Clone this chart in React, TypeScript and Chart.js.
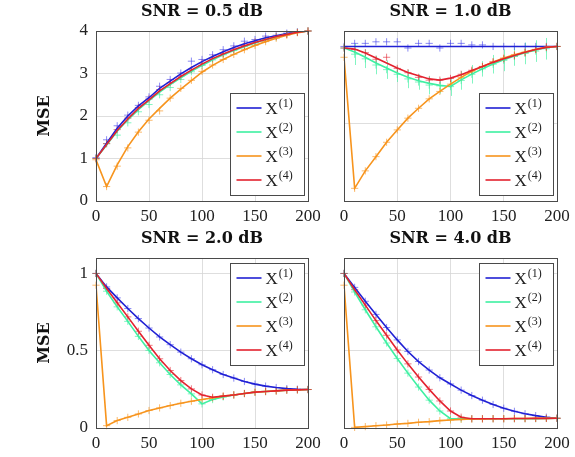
import React, { useEffect, useRef } from 'react';
import { Chart, registerables } from 'chart.js';

Chart.register(...registerables);

// ---------------- data ----------------
const xValues = [0, 10, 20, 30, 40, 50, 60, 70, 80, 90, 100, 110, 120, 130, 140, 150, 160, 170, 180, 190, 200];
const xTicks = [0, 50, 100, 150, 200];
const yTicksTop = [0, 1, 2, 3, 4];
const yTicksNorm = [0, 0.5, 1];
const seriesNames = ['X', 'X', 'X', 'X'];
const seriesSup = ['(1)', '(2)', '(3)', '(4)'];
const titles = ['SNR = 0.5 dB', 'SNR = 1.0 dB', 'SNR = 2.0 dB', 'SNR = 4.0 dB'];

// SNR = 0.5 dB (lines)
const tlBlue = [1.0, 1.36, 1.71, 2.0, 2.24, 2.43, 2.65, 2.82, 2.99, 3.14, 3.28, 3.4, 3.51, 3.61, 3.7, 3.77, 3.84, 3.89, 3.94, 3.98, 4.0];
const tlGreen = [1.0, 1.32, 1.64, 1.91, 2.15, 2.36, 2.56, 2.74, 2.9, 3.05, 3.19, 3.32, 3.44, 3.54, 3.63, 3.72, 3.8, 3.86, 3.92, 3.97, 4.0];
const tlOrange = [0.97, 0.34, 0.85, 1.28, 1.63, 1.93, 2.18, 2.42, 2.63, 2.83, 3.03, 3.19, 3.33, 3.45, 3.56, 3.66, 3.75, 3.83, 3.9, 3.96, 4.0];
const tlRed = [1.0, 1.33, 1.66, 1.93, 2.18, 2.38, 2.59, 2.76, 2.93, 3.08, 3.22, 3.35, 3.46, 3.56, 3.65, 3.73, 3.8, 3.87, 3.92, 3.97, 4.0];
// SNR = 0.5 dB (markers)
const tlBlueMk = [1.02, 1.44, 1.77, 2.02, 2.25, 2.45, 2.7, 2.86, 3.01, 3.29, 3.33, 3.44, 3.56, 3.65, 3.76, 3.8, 3.88, 3.9, 3.95, 3.98, 4.0];
const tlGreenMk = [1.0, 1.35, 1.55, 1.84, 2.1, 2.27, 2.5, 2.67, 2.86, 3.04, 3.19, 3.32, 3.44, 3.54, 3.64, 3.72, 3.8, 3.86, 3.92, 3.97, 4.0];
const tlOrangeMk = [0.97, 0.34, 0.82, 1.25, 1.62, 1.9, 2.12, 2.42, 2.65, 2.84, 3.05, 3.2, 3.33, 3.45, 3.56, 3.66, 3.75, 3.83, 3.9, 3.96, 4.0];
const tlRedMk = [1.0, 1.35, 1.68, 1.95, 2.2, 2.4, 2.62, 2.78, 2.94, 3.1, 3.24, 3.36, 3.47, 3.57, 3.66, 3.74, 3.81, 3.87, 3.92, 3.97, 4.0];

// SNR = 1.0 dB (lines)
const trBlue = [1.0, 1.0, 1.0, 1.0, 1.0, 1.0, 1.0, 1.0, 1.0, 1.0, 1.0, 1.0, 1.0, 1.0, 1.0, 1.0, 1.0, 1.0, 1.0, 1.0, 1.0];
const trGreen = [0.99, 0.964, 0.93, 0.893, 0.86, 0.828, 0.8, 0.778, 0.761, 0.748, 0.741, 0.784, 0.821, 0.856, 0.886, 0.914, 0.938, 0.96, 0.977, 0.992, 1.0];
const trOrange = [0.93, 0.082, 0.195, 0.287, 0.38, 0.46, 0.536, 0.6, 0.661, 0.709, 0.756, 0.8, 0.839, 0.871, 0.9, 0.925, 0.947, 0.964, 0.981, 0.996, 1.0];
const trRed = [0.99, 0.983, 0.957, 0.925, 0.893, 0.86, 0.832, 0.81, 0.79, 0.782, 0.795, 0.817, 0.845, 0.871, 0.897, 0.92, 0.942, 0.962, 0.98, 0.994, 1.0];
// SNR = 1.0 dB (markers + error)
const trBlueMk = [1.0, 1.02, 1.02, 1.03, 1.03, 1.03, 0.99, 1.02, 1.02, 0.99, 1.02, 1.02, 1.01, 1.01, 1.0, 1.0, 1.0, 1.0, 1.0, 1.0, 1.0];
const trGreenMk = [0.99, 0.95, 0.92, 0.88, 0.85, 0.82, 0.79, 0.77, 0.75, 0.745, 0.74, 0.78, 0.82, 0.855, 0.885, 0.91, 0.935, 0.955, 0.97, 0.985, 1.0];
const trGreenErr = [0.06, 0.07, 0.06, 0.06, 0.06, 0.05, 0.06, 0.05, 0.06, 0.05, 0.06, 0.06, 0.06, 0.05, 0.06, 0.07, 0.06, 0.07, 0.07, 0.07, 0.05];
const trOrangeMk = [0.93, 0.082, 0.195, 0.287, 0.38, 0.46, 0.536, 0.6, 0.661, 0.709, 0.756, 0.8, 0.839, 0.871, 0.9, 0.925, 0.947, 0.964, 0.981, 0.996, 1.0];
const trRedMk = [0.99, 0.98, 0.96, 0.917, 0.93, 0.858, 0.83, 0.8, 0.782, 0.782, 0.793, 0.82, 0.846, 0.87, 0.9, 0.92, 0.94, 0.96, 0.98, 0.995, 1.0];

// SNR = 2.0 dB
const blBlue = [1.0, 0.913, 0.842, 0.773, 0.708, 0.647, 0.589, 0.539, 0.491, 0.448, 0.409, 0.377, 0.346, 0.323, 0.301, 0.284, 0.271, 0.262, 0.255, 0.251, 0.249];
const blGreen = [1.0, 0.885, 0.784, 0.69, 0.593, 0.502, 0.422, 0.346, 0.279, 0.221, 0.156, 0.184, 0.201, 0.214, 0.223, 0.232, 0.236, 0.24, 0.245, 0.247, 0.249];
const blOrange = [0.924, 0.015, 0.048, 0.069, 0.091, 0.113, 0.13, 0.145, 0.16, 0.173, 0.184, 0.195, 0.206, 0.214, 0.223, 0.232, 0.236, 0.24, 0.245, 0.247, 0.249];
const blRed = [1.0, 0.903, 0.81, 0.719, 0.626, 0.535, 0.448, 0.372, 0.307, 0.253, 0.214, 0.199, 0.206, 0.214, 0.223, 0.232, 0.236, 0.24, 0.245, 0.247, 0.249];

// SNR = 4.0 dB
const brBlue = [1.0, 0.91, 0.82, 0.735, 0.65, 0.57, 0.495, 0.43, 0.375, 0.325, 0.285, 0.245, 0.21, 0.18, 0.152, 0.128, 0.108, 0.092, 0.08, 0.07, 0.063];
const brGreen = [1.0, 0.88, 0.765, 0.655, 0.55, 0.45, 0.355, 0.265, 0.18, 0.11, 0.06, 0.06, 0.06, 0.06, 0.06, 0.06, 0.06, 0.06, 0.06, 0.062, 0.063];
const brOrange = [0.924, 0.004, 0.009, 0.015, 0.019, 0.026, 0.03, 0.037, 0.041, 0.048, 0.052, 0.056, 0.058, 0.059, 0.06, 0.06, 0.061, 0.061, 0.062, 0.062, 0.063];
const brRed = [1.0, 0.895, 0.795, 0.695, 0.6, 0.505, 0.415, 0.33, 0.25, 0.175, 0.11, 0.07, 0.06, 0.06, 0.06, 0.06, 0.061, 0.061, 0.062, 0.062, 0.063];

const lineColors = ['#2020d4', '#3ef0a2', '#f7941d', '#e3222f'];
const markColors = ['rgba(60,60,235,0.6)', 'rgba(62,240,162,0.65)', 'rgba(247,148,29,0.65)', 'rgba(227,34,47,0.6)'];

// ---------------- panels ----------------
type Panel = {
  title: string;
  left: number;
  top: number;
  width: number;
  yMax: number;
  yTicks: number[];
  showY: boolean;
  legend: 'se' | 'ne';
  lines: number[][];
  marks: number[][];
  errs: (number[] | null)[];
};

const panels: Panel[] = [
  { title: titles[0], left: 0, top: 0, width: 330, yMax: 4, yTicks: yTicksTop, showY: true, legend: 'se',
    lines: [tlBlue, tlGreen, tlOrange, tlRed], marks: [tlBlueMk, tlGreenMk, tlOrangeMk, tlRedMk], errs: [null, null, null, null] },
  { title: titles[1], left: 312, top: 0, width: 263, yMax: 1.1, yTicks: yTicksNorm, showY: false, legend: 'se',
    lines: [trBlue, trGreen, trOrange, trRed], marks: [trBlueMk, trGreenMk, trOrangeMk, trRedMk], errs: [null, trGreenErr, null, null] },
  { title: titles[2], left: 0, top: 227, width: 330, yMax: 1.1, yTicks: yTicksNorm, showY: true, legend: 'ne',
    lines: [blBlue, blGreen, blOrange, blRed], marks: [blBlue, blGreen, blOrange, blRed], errs: [null, null, null, null] },
  { title: titles[3], left: 312, top: 227, width: 263, yMax: 1.1, yTicks: yTicksNorm, showY: false, legend: 'ne',
    lines: [brBlue, brGreen, brOrange, brRed], marks: [brBlue, brGreen, brOrange, brRed], errs: [null, null, null, null] },
];

const CANVAS_H = 228;

const frameAndLegend = {
  id: 'frameAndLegend',
  beforeDatasetsDraw(chart: any) {
    const opts = chart.options.plugins.frameAndLegend;
    const { ctx, scales } = chart;
    const xs = scales.x, ys = scales.y;
    ctx.save();
    ctx.lineWidth = 1;
    (opts.errs as (number[] | null)[]).forEach((err, si) => {
      if (!err) return;
      ctx.strokeStyle = markColors[si];
      const mk = opts.marks[si];
      err.forEach((e: number, j: number) => {
        const px = Math.round(xs.getPixelForValue(xValues[j])) + 0.5;
        ctx.beginPath();
        ctx.moveTo(px, ys.getPixelForValue(mk[j] - e));
        ctx.lineTo(px, ys.getPixelForValue(mk[j] + e));
        ctx.stroke();
      });
    });
    ctx.restore();
  },
  afterDatasetsDraw(chart: any) {
    const opts = chart.options.plugins.frameAndLegend;
    const { ctx, chartArea: a } = chart;
    ctx.save();
    ctx.strokeStyle = '#4a4a4a';
    ctx.lineWidth = 1;
    ctx.strokeRect(Math.round(a.left) + 0.5, Math.round(a.top) + 0.5, Math.round(a.right - a.left), Math.round(a.bottom - a.top));
    // legend
    const w = 74, h = 102;
    const bx = Math.round(a.right - 4 - w) + 0.5;
    const by = (opts.legend === 'se' ? Math.round(a.bottom - 6 - h) : Math.round(a.top + 5)) + 0.5;
    ctx.fillStyle = '#ffffff';
    ctx.fillRect(bx, by, w, h);
    ctx.strokeStyle = '#4a4a4a';
    ctx.strokeRect(bx, by, w, h);
    for (let i = 0; i < 4; i++) {
      const ry = by + 14.5 + i * 24;
      ctx.strokeStyle = lineColors[i];
      ctx.lineWidth = 1.6;
      ctx.beginPath();
      ctx.moveTo(bx + 6, ry);
      ctx.lineTo(bx + 31, ry);
      ctx.stroke();
      ctx.fillStyle = '#222';
      ctx.textBaseline = 'alphabetic';
      ctx.textAlign = 'left';
      ctx.font = '17px "Liberation Serif"';
      ctx.fillText(seriesNames[i], bx + 35, ry + 6);
      const xw = ctx.measureText(seriesNames[i]).width;
      ctx.font = '12px "Liberation Serif"';
      ctx.fillText(seriesSup[i], bx + 35 + xw + 1, ry - 1);
    }
    ctx.restore();
  },
};

function buildConfig(p: Panel): any {
  const datasets: any[] = [];
  p.lines.forEach((line, i) => {
    datasets.push({
      label: seriesNames[i] + seriesSup[i],
      data: xValues.map((x, j) => ({ x, y: line[j] })),
      borderColor: lineColors[i],
      borderWidth: 1.6,
      pointRadius: 0,
      tension: 0,
      fill: false,
      order: 10 - i,
    });
    datasets.push({
      label: 'mk' + i,
      data: xValues.map((x, j) => ({ x, y: p.marks[i][j] })),
      showLine: false,
      pointStyle: 'cross',
      pointRadius: 3.6,
      pointBorderWidth: 1,
      pointBorderColor: markColors[i],
      pointBackgroundColor: markColors[i],
      clip: false,
      order: 20 - i,
    });
  });
  const tickFont = { family: 'Liberation Serif', size: 17 };
  return {
    type: 'line',
    data: { datasets },
    options: {
      animation: false,
      responsive: false,
      events: [],
      layout: { padding: { left: 0, right: p.width - (p.left === 0 ? 308 : 245), top: 0, bottom: 0 } },
      plugins: {
        legend: { display: false },
        tooltip: { enabled: false },
        title: {
          display: true,
          text: p.title,
          fullSize: false,
          color: '#111',
          font: { family: 'DejaVu Serif', size: 16, weight: 'bold', lineHeight: 1.2 },
          padding: { top: 2, bottom: 9.8 },
        },
        frameAndLegend: { legend: p.legend, marks: p.marks, errs: p.errs },
      },
      scales: {
        x: {
          type: 'linear',
          min: 0,
          max: 200,
          afterBuildTicks: (s: any) => { s.ticks = xTicks.map((v) => ({ value: v })); },
          afterFit: (s: any) => { s.height = CANVAS_H - 201; },
          grid: { color: '#d6d6d6', lineWidth: 0.8, drawTicks: false },
          border: { display: false },
          ticks: { font: tickFont, color: '#222', padding: 5, maxRotation: 0, autoSkip: false, callback: (v: number) => String(v) },
        },
        y: {
          type: 'linear',
          min: 0,
          max: p.yMax,
          afterBuildTicks: (s: any) => { s.ticks = p.yTicks.map((v) => ({ value: v })); },
          afterFit: (s: any) => { s.width = p.left === 0 ? 96 : 32; },
          grid: { color: '#d6d6d6', lineWidth: 0.8, drawTicks: false },
          border: { display: false },
          ticks: { display: p.showY, font: tickFont, color: '#222', padding: 8, callback: (v: number) => String(v) },
          title: {
            display: p.showY,
            text: 'MSE',
            color: '#111',
            font: { family: 'DejaVu Serif', size: 16, weight: 'bold', lineHeight: 1.2 },
            padding: { top: 35, bottom: 0 },
          },
        },
      },
    },
    plugins: [frameAndLegend],
  };
}

function PanelChart({ p }: { p: Panel }) {
  const ref = useRef<HTMLCanvasElement | null>(null);
  useEffect(() => {
    if (!ref.current) return;
    const chart = new Chart(ref.current, buildConfig(p));
    return () => chart.destroy();
  }, [p]);
  return (
    <canvas
      ref={ref}
      width={p.width}
      height={CANVAS_H}
      style={{ position: 'absolute', left: p.left, top: p.top, width: p.width, height: CANVAS_H }}
    />
  );
}

export default function App() {
  return (
    <div style={{ position: 'fixed', left: 0, top: 0, width: 575, height: 457, background: '#ffffff', overflow: 'hidden' }}>
      {panels.map((p, i) => (
        <PanelChart key={i} p={p} />
      ))}
    </div>
  );
}
